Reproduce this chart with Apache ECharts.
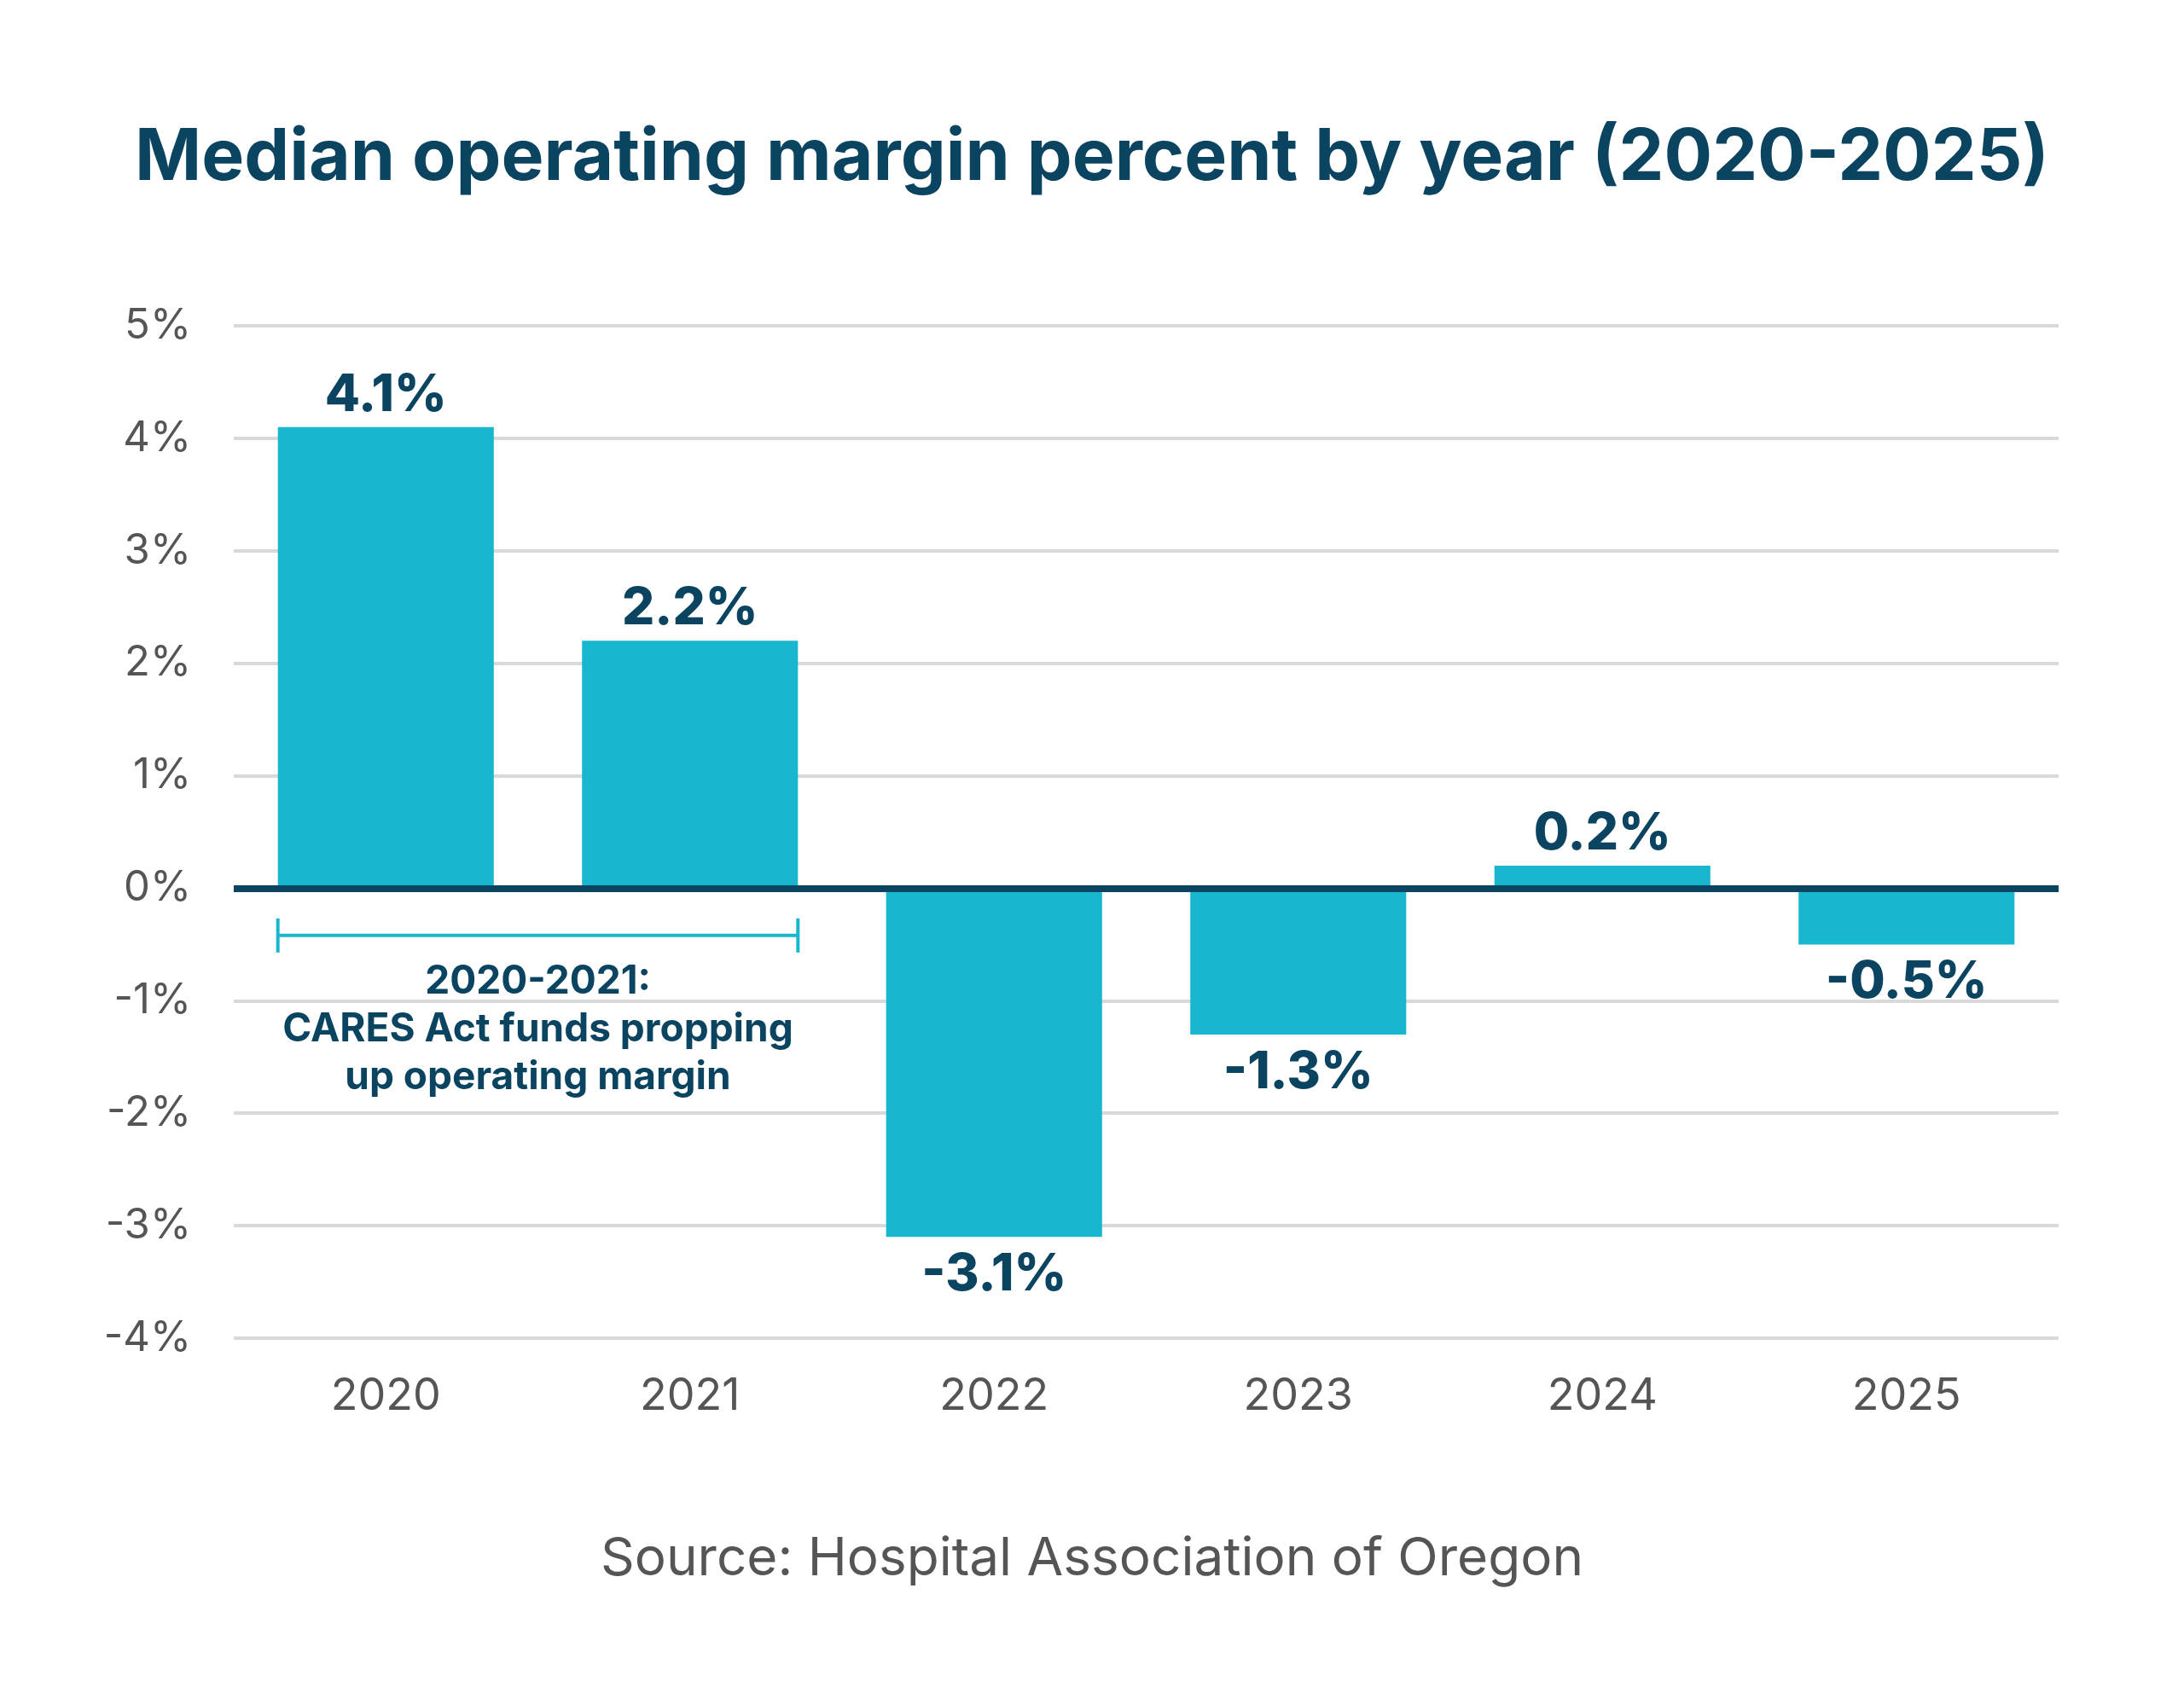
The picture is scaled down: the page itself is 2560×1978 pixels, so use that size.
<!DOCTYPE html>
<html>
<head>
<meta charset="utf-8">
<script src="https://cdn.jsdelivr.net/npm/echarts@6/dist/echarts.min.js"></script>
<style>
  html, body { margin: 0; padding: 0; background: #ffffff; }
  #chart { width: 2560px; height: 1978px; }
</style>
</head>
<body>
<div id="chart"></div>
<script>
// data
var years = ['2020', '2021', '2022', '2023', '2024', '2025'];
var margins = [4.1, 2.2, -3.1, -1.3, 0.2, -0.5];
var yTicks = [-4, -3, -2, -1, 0, 1, 2, 3, 4, 5];
// annotation: from first to second year, drawn just below zero
var caresSpan = [0, 1, -0.42];
var caresText = ['2020-2021:', 'CARES Act funds propping', 'up operating margin'];

var navy = '#0b4460';
var teal = '#18b7cf';
var gray = '#555555';
var font = 'Inter';
var barRatio = 0.71;

var chart = echarts.init(document.getElementById('chart'));

var option = {
  backgroundColor: '#ffffff',
  animation: false,
  title: [{
    text: 'Median operating margin percent by year (2020-2025)',
    left: 'center',
    top: 139,
    textStyle: { fontFamily: font, fontWeight: 'bold', fontSize: 84, color: navy }
  }, {
    text: 'Source: Hospital Association of Oregon',
    left: 'center',
    top: 1792,
    textStyle: { fontFamily: font, fontWeight: 'normal', fontSize: 62, color: gray }
  }],
  grid: { left: 274, right: 147, top: 382, bottom: 409 },
  xAxis: {
    type: 'category',
    data: years,
    axisLine: { show: false },
    axisTick: { show: false },
    axisLabel: { fontFamily: font, fontSize: 52, color: gray, margin: 42 }
  },
  yAxis: {
    type: 'value',
    min: yTicks[0],
    max: yTicks[yTicks.length - 1],
    interval: 1,
    axisLine: { show: false },
    axisTick: { show: false },
    axisLabel: {
      fontFamily: font, fontSize: 49, color: gray, margin: 50,
      formatter: function (v) { return v + '%'; }
    },
    splitLine: { lineStyle: { color: '#d9d9d9', width: 4 } }
  },
  series: [{
    type: 'bar',
    barWidth: (barRatio * 100) + '%',
    itemStyle: { color: teal },
    data: margins.map(function (v) {
      return {
        value: v,
        label: {
          show: true,
          position: v >= 0 ? 'top' : 'bottom',
          distance: v >= 0 ? 7 : 15,
          fontFamily: font, fontWeight: 800, fontSize: 60, color: navy,
          formatter: function (p) { return p.value.toFixed(1) + '%'; }
        }
      };
    }),
    markLine: {
      silent: true,
      symbol: 'none',
      label: { show: false },
      lineStyle: { color: navy, width: 8, type: 'solid' },
      data: [{ yAxis: 0 }]
    },
    z: 2
  }, {
    type: 'custom',
    silent: true,
    z: 3,
    data: [caresSpan],
    renderItem: function (params, api) {
      var y = api.value(2);
      var a = api.coord([api.value(0), y]);
      var b = api.coord([api.value(1), y]);
      var half = api.size([1, 0])[0] * barRatio / 2;
      var x0 = a[0] - half, x1 = b[0] + half;
      var mid = (x0 + x1) / 2;
      var st = { stroke: teal, lineWidth: 4 };
      var kids = [
        { type: 'line', shape: { x1: x0, y1: a[1], x2: x1, y2: a[1] }, style: st },
        { type: 'line', shape: { x1: x0, y1: a[1] - 20, x2: x0, y2: a[1] + 20 }, style: st },
        { type: 'line', shape: { x1: x1, y1: a[1] - 20, x2: x1, y2: a[1] + 20 }, style: st }
      ];
      caresText.forEach(function (t, i) {
        kids.push({
          type: 'text',
          style: {
            text: t, x: mid, y: a[1] + 54 + i * 56,
            align: 'center', verticalAlign: 'middle',
            fontFamily: font, fontWeight: 'bold', fontSize: 46, fill: navy
          }
        });
      });
      return { type: 'group', children: kids };
    }
  }]
};
chart.setOption(option);
</script>
</body>
</html>
